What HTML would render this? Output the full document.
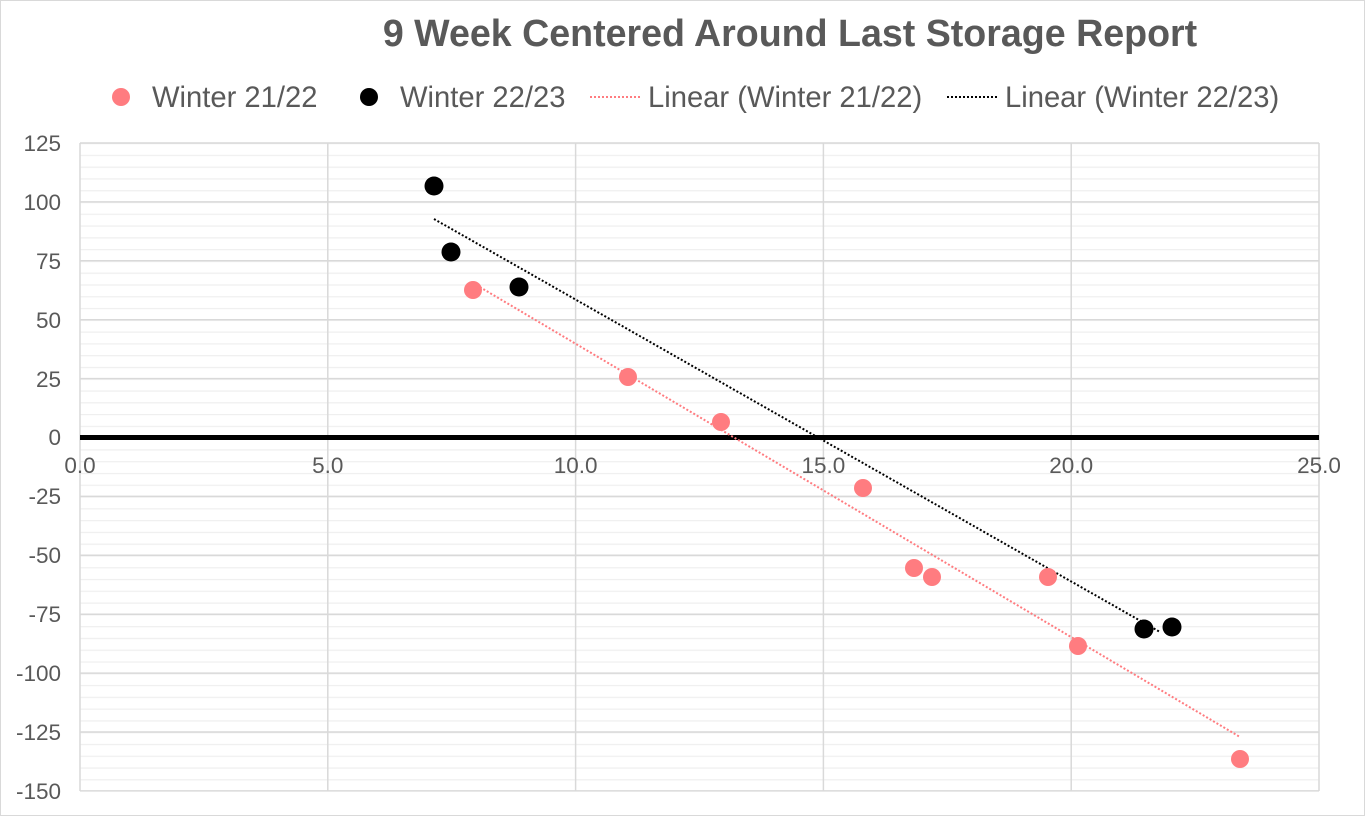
<!DOCTYPE html>
<html><head><style>body{margin:0;background:#fff}</style></head><body>
<svg width="1365" height="816" xmlns="http://www.w3.org/2000/svg" font-family="Liberation Sans, sans-serif">
<defs>
<pattern id="mg" x="80" y="143" width="1239" height="11.782" patternUnits="userSpaceOnUse">
<line x1="0" x2="1239" y1="0.5" y2="0.5" stroke="#efefef" stroke-width="1.5"/>
</pattern>
</defs>
<rect x="0.5" y="0.5" width="1364" height="815" fill="#fff" stroke="#d9d9d9"/>
<text x="790" y="46" text-anchor="middle" font-size="37.6" font-weight="bold" fill="#595959">9 Week Centered Around Last Storage Report</text>
<g font-size="29.2" fill="#595959">
<circle cx="121" cy="97" r="9" fill="#ff7c80"/><text x="152" y="107">Winter 21/22</text>
<circle cx="369" cy="97" r="9" fill="#000"/><text x="400" y="107">Winter 22/23</text>
<line x1="590" y1="97" x2="640" y2="97" stroke="#ff7c80" stroke-width="2" stroke-dasharray="2,2"/><text x="648" y="107">Linear (Winter 21/22)</text>
<line x1="947" y1="97" x2="997" y2="97" stroke="#000" stroke-width="2" stroke-dasharray="2,2"/><text x="1005" y="107">Linear (Winter 22/23)</text>
</g>
<rect x="80" y="143" width="1239" height="648" fill="url(#mg)"/>
<g stroke="#d9d9d9" stroke-width="1.5">
<line x1="80" x2="1319" y1="143" y2="143"/>
<line x1="80" x2="1319" y1="201.9" y2="201.9"/>
<line x1="80" x2="1319" y1="260.8" y2="260.8"/>
<line x1="80" x2="1319" y1="319.7" y2="319.7"/>
<line x1="80" x2="1319" y1="378.6" y2="378.6"/>
<line x1="80" x2="1319" y1="496.4" y2="496.4"/>
<line x1="80" x2="1319" y1="555.3" y2="555.3"/>
<line x1="80" x2="1319" y1="614.2" y2="614.2"/>
<line x1="80" x2="1319" y1="673.1" y2="673.1"/>
<line x1="80" x2="1319" y1="732" y2="732"/>
<line x1="80" x2="1319" y1="790.9" y2="790.9"/>
<line y1="143" y2="791" x1="80" x2="80"/>
<line y1="143" y2="791" x1="327.8" x2="327.8"/>
<line y1="143" y2="791" x1="575.6" x2="575.6"/>
<line y1="143" y2="791" x1="823.4" x2="823.4"/>
<line y1="143" y2="791" x1="1071.2" x2="1071.2"/>
<line y1="143" y2="791" x1="1319" x2="1319"/>
</g>
<g font-size="22.5" fill="#595959" text-anchor="end">
<text x="61" y="151">125</text>
<text x="61" y="210">100</text>
<text x="61" y="269">75</text>
<text x="61" y="328">50</text>
<text x="61" y="387">25</text>
<text x="61" y="445">0</text>
<text x="61" y="504">-25</text>
<text x="61" y="563">-50</text>
<text x="61" y="622">-75</text>
<text x="61" y="681">-100</text>
<text x="61" y="740">-125</text>
<text x="61" y="799">-150</text>
</g>
<g font-size="22.5" fill="#595959" text-anchor="middle">
<text x="80" y="473">0.0</text>
<text x="327.8" y="473">5.0</text>
<text x="575.6" y="473">10.0</text>
<text x="823.4" y="473">15.0</text>
<text x="1071.2" y="473">20.0</text>
<text x="1319" y="473">25.0</text>
</g>
<line x1="80" x2="1319" y1="437.5" y2="437.5" stroke="#000" stroke-width="5"/>
<line x1="473" y1="283" x2="1240" y2="737" stroke="#ff7c80" stroke-width="2" stroke-dasharray="2,2"/>
<line x1="434" y1="219" x2="1160" y2="632" stroke="#000" stroke-width="2" stroke-dasharray="2,2"/>
<g fill="#ff7c80">
<circle cx="473" cy="290" r="9"/><circle cx="628" cy="377" r="9"/><circle cx="721" cy="422" r="9"/>
<circle cx="863" cy="488" r="9"/><circle cx="914" cy="568" r="9"/><circle cx="932" cy="577" r="9"/>
<circle cx="1048" cy="577" r="9"/><circle cx="1078" cy="646" r="9"/><circle cx="1240" cy="759" r="9"/>
</g>
<g fill="#000">
<circle cx="434" cy="186" r="9.5"/><circle cx="451" cy="252" r="9.5"/><circle cx="519" cy="287" r="9.5"/>
<circle cx="1144" cy="629" r="9.5"/><circle cx="1172" cy="627" r="9.5"/>
</g>
</svg>
</body></html>
